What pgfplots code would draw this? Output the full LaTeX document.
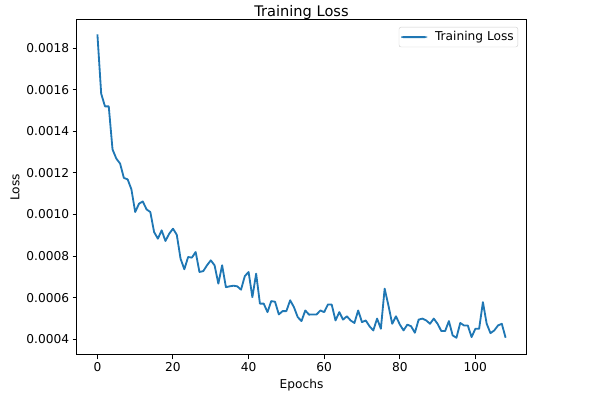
\documentclass[border=0pt]{standalone}
\usepackage{fontspec}
\setmainfont{DejaVu Sans}
\usepackage{pgfplots}
\pgfplotsset{compat=1.18}
\definecolor{mplblue}{HTML}{1F77B4}
\pgfplotstableread{
epoch loss
0 0.001866
1 0.001581
2 0.00152
3 0.00152
4 0.001313
5 0.001269
6 0.001245
7 0.001176
8 0.001169
9 0.001121
10 0.001012
11 0.001052
12 0.001063
13 0.001025
14 0.001012
15 0.000916
16 0.000884
17 0.000924
18 0.000873
19 0.000908
20 0.000932
21 0.000903
22 0.000788
23 0.000737
24 0.000796
25 0.000793
26 0.00082
27 0.000724
28 0.000728
29 0.000756
30 0.00078
31 0.000756
32 0.000668
33 0.000756
34 0.000651
35 0.000655
36 0.000658
37 0.000655
38 0.000639
39 0.000704
40 0.000724
41 0.000603
42 0.000716
43 0.000572
44 0.000572
45 0.000531
46 0.000584
47 0.000581
48 0.00052
49 0.000536
50 0.000536
51 0.000588
52 0.000555
53 0.000507
54 0.000488
55 0.000539
56 0.000519
57 0.00052
58 0.00052
59 0.000539
60 0.000531
61 0.000568
62 0.000567
63 0.000491
64 0.000531
65 0.000495
66 0.000511
67 0.000491
68 0.000479
69 0.000539
70 0.000483
71 0.000491
72 0.000463
73 0.000443
74 0.0005
75 0.000451
76 0.000644
77 0.000563
78 0.000475
79 0.000511
80 0.000472
81 0.000443
82 0.000471
83 0.000463
84 0.000432
85 0.000495
86 0.0005
87 0.000491
88 0.000475
89 0.0005
90 0.000475
91 0.00044
92 0.00044
93 0.000488
94 0.000419
95 0.000408
96 0.000479
97 0.000467
98 0.000467
99 0.000411
100 0.000451
101 0.000451
102 0.000579
103 0.000475
104 0.00043
105 0.000443
106 0.000467
107 0.000475
108 0.000408
}\losstable
\begin{document}
\begin{tikzpicture}
\useasboundingbox (-77pt,-43pt) rectangle (520pt,355pt);
\begin{axis}[
  at={(0pt,0pt)}, anchor=south west,
  scale only axis, width=449pt, height=335pt,
  xmin=-5.4, xmax=113.4, ymin=0.000325, ymax=0.001935,
  xtick={0,20,40,60,80,100},
  ytick={0.0004,0.0006,0.0008,0.0010,0.0012,0.0014,0.0016,0.0018},
  scaled y ticks=false,
  yticklabel style={/pgf/number format/fixed, /pgf/number format/fixed zerofill, /pgf/number format/precision=4},
  /pgf/number format/assume math mode=true,
  tick align=outside, xtick pos=lower, ytick pos=left,
  major tick length=4.3pt,
  tick style={black, line width=1pt},
  axis line style={line width=1pt},
  ticklabel style={font=\fontsize{12.2}{14}\selectfont},
  label style={font=\fontsize{12.2}{14}\selectfont},
  title={Training Loss},
  title style={font=\fontsize{14.6}{17}\selectfont, yshift=-9pt},
  xlabel={Epochs}, ylabel={Loss},
  legend cell align=left,
  legend style={at={(1,1)}, anchor=north east, xshift=-8pt, yshift=-7pt,
    draw=black!20, rounded corners=2pt, fill=white, fill opacity=0.8, text opacity=1,
    font=\fontsize{12.2}{14}\selectfont, inner xsep=2pt, inner ysep=2pt,
    nodes={inner xsep=2pt, inner ysep=2.5pt}},
]
\addplot[mplblue, line width=1.83pt, line join=round, no marks,
  legend image code/.code={\fill[mplblue, fill opacity=1, draw=none] (0pt,-0.92pt) rectangle (26pt,0.92pt); \path[draw=none, fill=none] (0pt,0pt) -- (32pt,0pt);}]
  table[x=epoch, y=loss] {\losstable};
\addlegendentry{Training Loss}
\end{axis}
\end{tikzpicture}
\end{document}
